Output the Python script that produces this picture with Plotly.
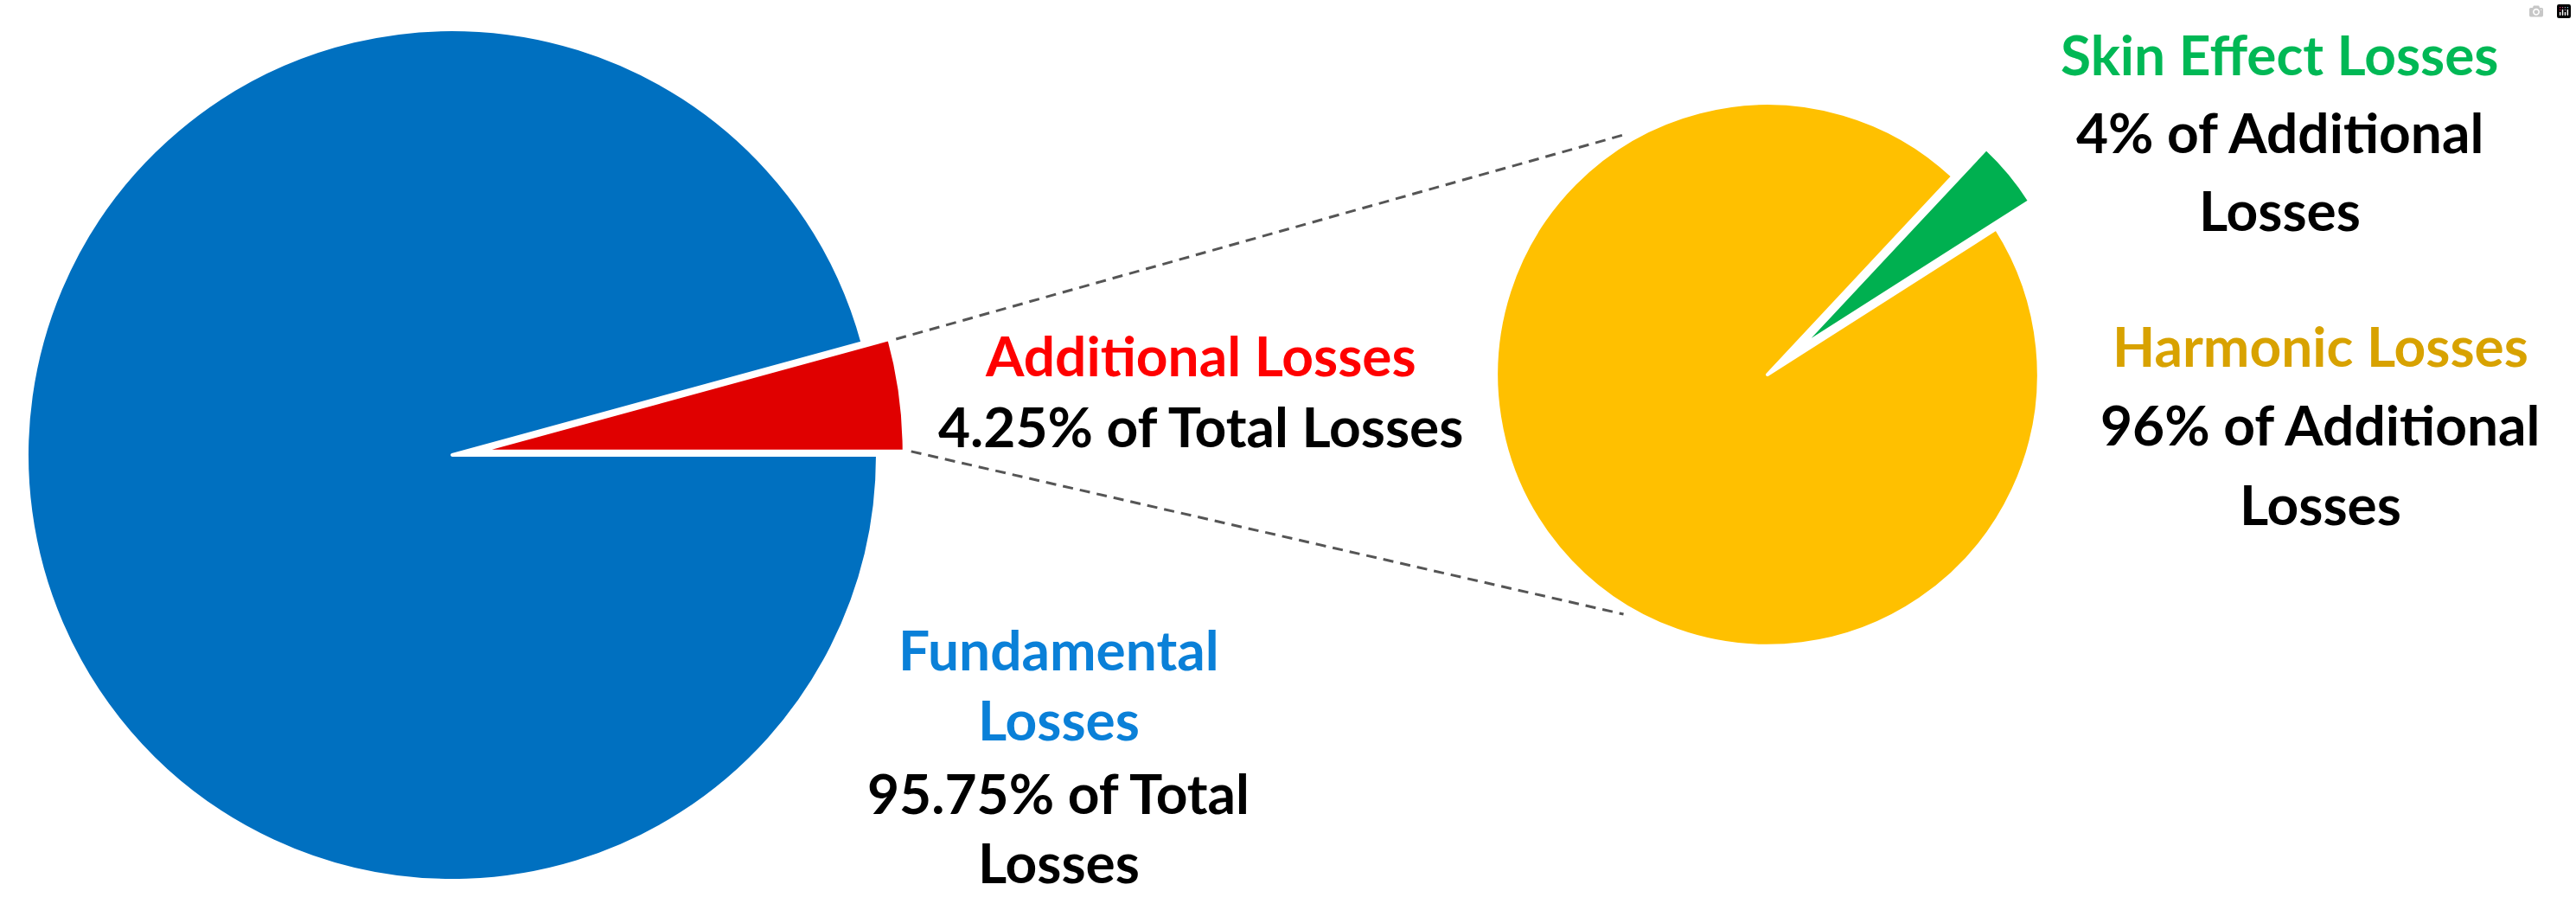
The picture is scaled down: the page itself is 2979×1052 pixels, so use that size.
import math
import plotly.graph_objects as go

W, H = 2979, 1052

# data
total_labels = ["Additional Losses", "Fundamental Losses"]
total_values = [4.25, 95.75]
total_colors = ["#E00000", "#0070C0"]

extra_labels = ["Skin Effect Losses", "Harmonic Losses"]
extra_values = [4, 96]
extra_colors = ["#00B050", "#FFC000"]

# label text, one entry per line: (text, colour)
total_text = [
    [("Additional Losses", "#FF0000"), ("4.25% of Total Losses", "black")],
    [("Fundamental", "#0A80D8"), ("Losses", "#0A80D8"),
     ("95.75% of Total", "black"), ("Losses", "black")],
]
extra_text = [
    [("Skin Effect Losses", "#00B855"), ("4% of Additional", "black"), ("Losses", "black")],
    [("Harmonic Losses", "#D8A200"), ("96% of Additional", "black"), ("Losses", "black")],
]

# layout of the two pies, in pixels (y from top)
big_cx, big_cy, big_half = 523, 526, 523
big_pull = 0.063
small_cx, small_cy, small_half = 2044, 433, 364
small_pull = 0.16
small_start = 32.5   # degrees ccw from 3 o'clock where the green slice starts

# where each label block sits: centre x, y of every line
text_pos = [
    (1388, [410, 492]),
    (1224, [750, 831, 916, 996]),
    (2636, [62, 152, 243]),
    (2683, [400, 490, 582]),
]


def px(x):
    return x / W


def py(y):
    return 1 - y / H


share = total_values[0] / sum(total_values) * 360
green = extra_values[0] / sum(extra_values) * 360

fig = go.Figure()

# plotly rotation = clock angle where the first slice starts, going clockwise
fig.add_trace(go.Pie(
    labels=total_labels, values=total_values, sort=False,
    direction="clockwise", rotation=90 - share,
    pull=[big_pull, 0],
    marker=dict(colors=total_colors, line=dict(color="white", width=4)),
    textinfo="none", hoverinfo="label+percent",
    domain=dict(x=[px(big_cx - big_half), px(big_cx + big_half)],
                y=[py(big_cy + big_half), py(big_cy - big_half)]),
))

fig.add_trace(go.Pie(
    labels=extra_labels, values=extra_values, sort=False,
    direction="clockwise", rotation=90 - small_start - green,
    pull=[small_pull, 0],
    marker=dict(colors=extra_colors, line=dict(color="white", width=4)),
    textinfo="none", hoverinfo="label+percent",
    domain=dict(x=[px(small_cx - small_half), px(small_cx + small_half)],
                y=[py(small_cy + small_half), py(small_cy - small_half)]),
))

# connector lines from the pulled red slice to the second pie
r1 = big_half / (1 + big_pull)
r2 = small_half / (1 + small_pull)
mid = math.radians(share / 2)
ox = big_cx + big_pull * r1 * math.cos(mid)
oy = big_cy - big_pull * r1 * math.sin(mid)
for a_big, a_small in [(share, 121), (0, -121)]:
    x0 = ox + r1 * math.cos(math.radians(a_big)) + 8
    y0 = oy - r1 * math.sin(math.radians(a_big))
    x1 = small_cx + 1.03 * r2 * math.cos(math.radians(a_small))
    y1 = small_cy - 1.03 * r2 * math.sin(math.radians(a_small))
    fig.add_shape(type="line", xref="paper", yref="paper",
                  x0=px(x0), y0=py(y0), x1=px(x1), y1=py(y1),
                  line=dict(color="#555555", width=3, dash="12px,8px"))

for block, (x, ys) in zip(total_text + extra_text, text_pos):
    for (txt, col), y in zip(block, ys):
        fig.add_annotation(
            xref="paper", yref="paper", x=px(x), y=py(y),
            xanchor="center", yanchor="middle", showarrow=False,
            text=f"<b>{txt}</b>",
            font=dict(family="Lato, Open Sans, sans-serif", size=64, color=col),
        )

fig.update_layout(
    width=W, height=H, margin=dict(l=0, r=0, t=0, b=0),
    showlegend=False, paper_bgcolor="white", plot_bgcolor="white",
)

fig.write_html("out.html", post_script="document.body.style.margin='0';")
